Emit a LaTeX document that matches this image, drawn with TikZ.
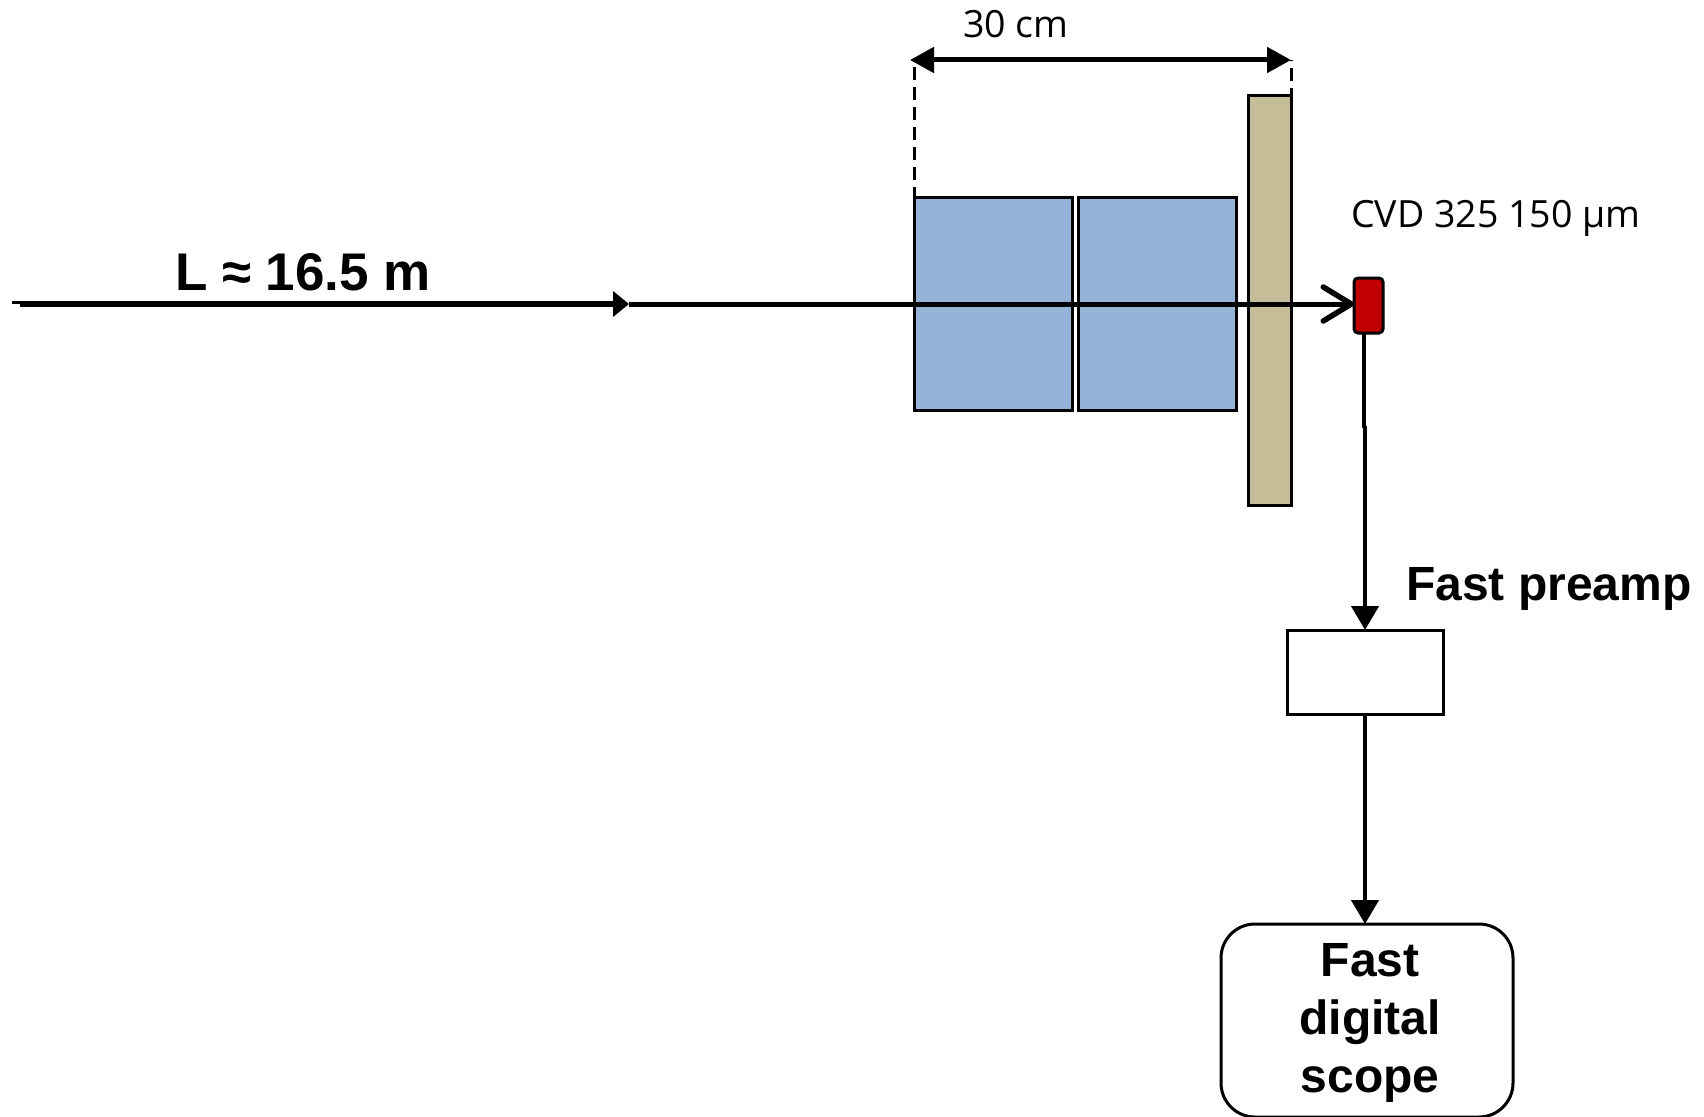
\documentclass[tikz,border=0pt]{standalone}
\usepackage{fontspec}
\setmainfont{Liberation Sans}
\newfontfamily\lightfont{Open Sans}
\usetikzlibrary{arrows.meta,positioning}
\definecolor{blueblock}{HTML}{95B3D7}
\definecolor{tanblock}{HTML}{C4BD97}
\definecolor{redsensor}{HTML}{C00000}
\tikzset{
  blk/.style={draw=black,line width=3pt,inner sep=0pt,outer sep=0pt,anchor=north west},
  boldlabel/.style={font=\bfseries\fontsize{48}{58}\selectfont,inner sep=0pt,align=center},
  thinlabel/.style={font=\lightfont\fontsize{37.5}{44}\selectfont,inner sep=0pt},
  solidtip/.style={-{Triangle[length=24pt,width=27pt]}},
  beam/.style={line width=5.5pt},
  wire/.style={line width=4.4pt},
}
\begin{document}
\begin{tikzpicture}[x=1pt,y=-1pt]
\useasboundingbox (0,0) rectangle (1704,1116);
% blocks
\node[blk,fill=blueblock,minimum width=158pt,minimum height=213pt] (b1) at (914,197) {};
\node[blk,fill=blueblock,minimum width=158pt,minimum height=213pt] (b2) at (1078,197) {};
\node[blk,fill=tanblock,minimum width=43pt,minimum height=410pt] (abs) at (1248,95) {};
\node[blk,fill=redsensor,rounded corners=4pt,minimum width=29pt,minimum height=55pt] (det) at (1354,278) {};
\node[blk,fill=white,minimum width=156pt,minimum height=84pt] (pre) at (1287,630) {};
\node[blk,fill=white,rounded corners=34pt,minimum width=292pt,minimum height=193pt] (scope) at (1221,924) {};
% coordinates
\coordinate (dl) at ([yshift=-3pt]b1.north west);
\coordinate (dr) at ([yshift=-6pt]abs.north east);
\coordinate (al) at ([xshift=-4pt]dl |- 0,60);
\coordinate (ar) at (dr |- 0,60);
\coordinate (s0) at (12,302);
\coordinate (s1) at (20,304);
\coordinate (mid) at (629,304);
\coordinate (jog) at (pre.north |- 0,426);
\coordinate (wtop) at (1364,333);
\coordinate (wmid) at (1364,428);
\coordinate (bend) at (det.west |- 0,304);
% dimension
\draw[line width=3pt,dash pattern=on 13pt off 7pt] (dl) -- (dl |- 0,60);
\draw[line width=3pt,dash pattern=on 13pt off 7pt] (dr) -- (ar);
\draw[line width=5pt,{Triangle[length=24pt,width=25pt]}-{Triangle[length=24pt,width=25pt]}] (al) -- (ar);
% beam
\draw[line width=3pt] (s0) -- ++(8,0);
\draw[beam,-{Triangle[length=16pt,width=25pt]}] (s1) -- (mid);
\draw[line width=5pt,-{Straight Barb[length=28pt,width=34pt,line width=5.5pt,round]}] (mid) -- (bend);
% wires
\draw[wire] (wtop) -- (wmid);
\draw[wire,solidtip] (jog) -- (pre.north);
\draw[wire,solidtip] (pre.south) -- (pre.south |- scope.north);
% labels
\node[boldlabel,font=\bfseries\fontsize{53}{64}\selectfont] (lL) at (303,272) {L ≈ 16.5 m};
\node[thinlabel] (l30) at (1016,24) {30 cm};
\node[thinlabel,anchor=west] (lcvd) at (1351,218) {CVD 325 150 µm};
\node[boldlabel,anchor=west] (lpre) at (1406,589) {Fast preamp};
\node[boldlabel,anchor=north] (lsc) at (1370,943) {Fast\\digital\\scope};
\end{tikzpicture}
\end{document}
